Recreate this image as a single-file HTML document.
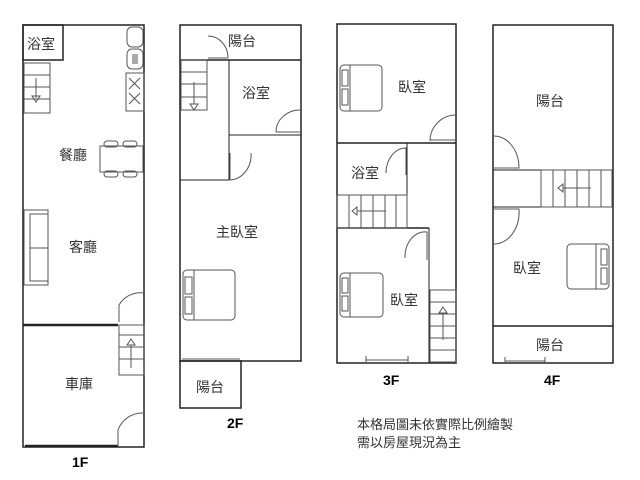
<!DOCTYPE html>
<html><head><meta charset="utf-8"><style>
body{margin:0;background:#fff;}
svg{display:block;}
text{font-family:"Liberation Sans","Noto Sans CJK TC",sans-serif;fill:#333;}
</style></head><body>
<svg width="640" height="480" viewBox="0 0 640 480" xmlns="http://www.w3.org/2000/svg">
<g fill="none" stroke="#222" stroke-width="1.5">
<rect x="23" y="25" width="121" height="422"/>
<rect x="23" y="25" width="40" height="35"/>
<line x1="23" y1="325" x2="118" y2="325" stroke-width="2.5"/>
<line x1="25" y1="446" x2="118" y2="446" stroke-width="2.5"/>
</g>
<g fill="none" stroke="#555" stroke-width="1">
<rect x="24" y="63" width="26" height="50"/>
<line x1="24" y1="75" x2="50" y2="75"/><line x1="24" y1="87" x2="50" y2="87"/><line x1="24" y1="99" x2="50" y2="99"/>
<line x1="36" y1="78" x2="36" y2="98"/><path d="M32 96 L40 96 L36 102 Z"/>
<rect x="127" y="27" width="16" height="20" rx="5"/><rect x="127" y="49" width="16" height="20" rx="5"/>
<line x1="133" y1="54" x2="133" y2="64"/><line x1="135" y1="54" x2="135" y2="64"/><line x1="137" y1="54" x2="137" y2="64"/>
<rect x="126" y="73" width="18" height="38"/>
<path d="M129 78 L140 89 M140 78 L129 89 M129 93 L140 104 M140 93 L129 104"/>
<rect x="100" y="146" width="43" height="26"/>
<rect x="104" y="141" width="14" height="6" rx="3"/><rect x="123" y="141" width="14" height="6" rx="3"/>
<rect x="104" y="171" width="14" height="6" rx="3"/><rect x="123" y="171" width="14" height="6" rx="3"/>
<rect x="24" y="210" width="24" height="75"/><rect x="30" y="214" width="18" height="34"/><rect x="30" y="248" width="18" height="33"/>
<rect x="119" y="325" width="25" height="50"/>
<line x1="119" y1="335" x2="144" y2="335"/><line x1="119" y1="347" x2="144" y2="347"/><line x1="119" y1="359" x2="144" y2="359"/>
<line x1="131" y1="345" x2="131" y2="368"/><path d="M127 345 L135 345 L131 339 Z"/>
<path d="M119 322 L119 305 A25 25 0 0 1 144 293"/>
<path d="M118 446 L118 430 A26 26 0 0 1 144 413"/>
</g>
<g fill="none" stroke="#222" stroke-width="1.5">
<rect x="180" y="25" width="121" height="336"/>
<line x1="180" y1="60" x2="301" y2="60"/>
<line x1="229" y1="60" x2="229" y2="180" stroke-width="1"/>
<line x1="229" y1="135" x2="301" y2="135" stroke-width="1"/>
<line x1="180" y1="180" x2="229" y2="180" stroke-width="1"/>
<rect x="180" y="361" width="61" height="47"/>
</g>
<g fill="none" stroke="#555" stroke-width="1">
<rect x="181" y="60" width="26" height="50"/>
<line x1="181" y1="72" x2="207" y2="72"/><line x1="181" y1="84" x2="207" y2="84"/><line x1="181" y1="97" x2="207" y2="97"/>
<line x1="194" y1="82" x2="194" y2="104"/><path d="M190 104 L198 104 L194 110 Z"/>
<path d="M208 58 L228 58 M228 58 L228 56 A20 22 0 0 0 208 36"/>
<path d="M276 132 A24 22 0 0 1 300 110 M276 132 L300 132"/>
<path d="M230 153 L230 180 A22 25 0 0 0 251 153"/>
<rect x="183" y="270" width="52" height="50" rx="4"/><line x1="194" y1="270" x2="194" y2="320"/>
<rect x="185" y="277" width="7" height="17"/><rect x="185" y="297" width="7" height="17"/>
<line x1="182" y1="359" x2="240" y2="359"/>
</g>
<g fill="none" stroke="#222" stroke-width="1.5">
<rect x="337" y="24" width="119" height="339"/>
<line x1="337" y1="143" x2="456" y2="143"/>
<line x1="407" y1="143" x2="407" y2="228" stroke-width="1"/>
<line x1="337" y1="228" x2="429" y2="228"/>
<line x1="429" y1="228" x2="429" y2="363" stroke-width="1"/>
</g>
<g fill="none" stroke="#555" stroke-width="1">
<rect x="340" y="65" width="42" height="46" rx="4"/><line x1="350" y1="65" x2="350" y2="111"/>
<rect x="342" y="70" width="6" height="16"/><rect x="342" y="89" width="6" height="16"/>
<path d="M430 141 A26 26 0 0 1 456 115 M430 140 L456 140"/>
<path d="M386 173 A20 25 0 0 1 406 148 L406 175"/>
<rect x="337" y="195" width="70" height="33"/>
<line x1="349" y1="195" x2="349" y2="228"/><line x1="361" y1="195" x2="361" y2="228"/><line x1="373" y1="195" x2="373" y2="228"/><line x1="385" y1="195" x2="385" y2="228"/><line x1="396" y1="195" x2="396" y2="228"/>
<line x1="357" y1="211" x2="386" y2="211"/><path d="M357 207 L357 215 L352 211 Z"/>
<path d="M405 258 A20 25 0 0 1 427 232 L427 260"/>
<rect x="340" y="273" width="43" height="44" rx="4"/><line x1="350" y1="273" x2="350" y2="317"/>
<rect x="342" y="278" width="6" height="15"/><rect x="342" y="296" width="6" height="15"/>
<rect x="430" y="290" width="26" height="72"/>
<line x1="430" y1="302" x2="456" y2="302"/><line x1="430" y1="314" x2="456" y2="314"/><line x1="430" y1="326" x2="456" y2="326"/><line x1="430" y1="338" x2="456" y2="338"/><line x1="430" y1="350" x2="456" y2="350"/>
<line x1="443" y1="313" x2="443" y2="340"/><path d="M439 313 L447 313 L443 307 Z"/>
<line x1="366" y1="360" x2="408" y2="360"/><line x1="366" y1="356" x2="366" y2="362"/><line x1="408" y1="356" x2="408" y2="362"/>
</g>
<g fill="none" stroke="#222" stroke-width="1.5">
<rect x="493" y="25" width="120" height="338"/>
<line x1="493" y1="326" x2="613" y2="326"/>
<line x1="493" y1="170" x2="541" y2="170" stroke-width="1"/>
<line x1="493" y1="207" x2="541" y2="207" stroke-width="1"/>
</g>
<g fill="none" stroke="#555" stroke-width="1">
<rect x="541" y="170" width="71" height="37"/>
<line x1="553" y1="170" x2="553" y2="207"/><line x1="565" y1="170" x2="565" y2="207"/><line x1="577" y1="170" x2="577" y2="207"/><line x1="589" y1="170" x2="589" y2="207"/><line x1="601" y1="170" x2="601" y2="207"/>
<line x1="563" y1="188" x2="591" y2="188"/><path d="M563 184 L563 192 L558 188 Z"/>
<path d="M494 136 A25 32 0 0 1 519 168 L494 168"/>
<path d="M494 244 A25 32 0 0 0 519 209 L494 209"/>
<rect x="567" y="244" width="42" height="45" rx="4"/><line x1="596" y1="244" x2="596" y2="289"/>
<rect x="601" y="249" width="6" height="16"/><rect x="601" y="268" width="6" height="16"/>
<line x1="505" y1="361" x2="545" y2="361"/><line x1="505" y1="357" x2="505" y2="362"/><line x1="545" y1="357" x2="545" y2="362"/>
</g>
<g font-size="14">
<text x="27" y="49">浴室</text>
<text x="59" y="160">餐廳</text>
<text x="69" y="252">客廳</text>
<text x="65" y="389">車庫</text>
<text x="228" y="46">陽台</text>
<text x="242" y="98">浴室</text>
<text x="216" y="237">主臥室</text>
<text x="196" y="392">陽台</text>
<text x="398" y="92">臥室</text>
<text x="351" y="178">浴室</text>
<text x="390" y="305">臥室</text>
<text x="536" y="106">陽台</text>
<text x="513" y="273">臥室</text>
<text x="536" y="350">陽台</text>
</g>
<g font-size="13">
<text x="357" y="429">本格局圖未依實際比例繪製</text>
<text x="357" y="447">需以房屋現況為主</text>
</g>
<g font-size="14" font-weight="bold">
<text x="72" y="467" style="fill:#000">1F</text>
<text x="227" y="428" style="fill:#000">2F</text>
<text x="383" y="385" style="fill:#000">3F</text>
<text x="544" y="385" style="fill:#000">4F</text>
</g>
</svg>
</body></html>
